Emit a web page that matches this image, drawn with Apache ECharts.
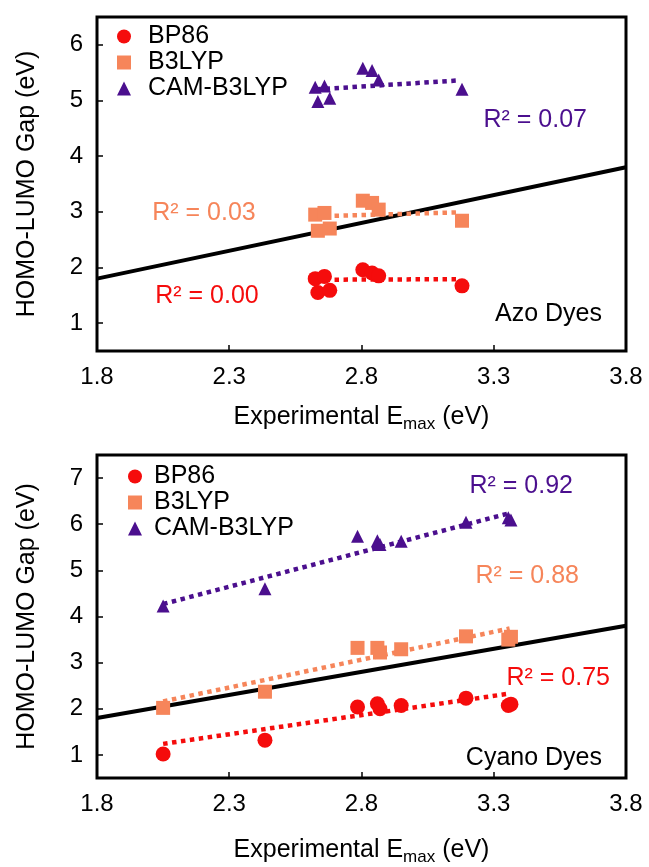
<!DOCTYPE html>
<html>
<head>
<meta charset="utf-8">
<script src="https://cdn.jsdelivr.net/npm/echarts@6/dist/echarts.min.js"></script>
<style>
  html, body { margin: 0; padding: 0; background: #fff; }
  #chart { width: 649px; height: 867px; }
</style>
</head>
<body>
<div id="chart"></div>
<script>
// tick labels
var xTicks = [1.8, 2.3, 2.8, 3.3, 3.8];
var yTicksAzo = [1, 2, 3, 4, 5, 6];
var yTicksCyano = [1, 2, 3, 4, 5, 6, 7];
var names = ['BP86', 'B3LYP', 'CAM-B3LYP'];

// Azo dyes (experimental Emax vs computed gap)
var azoX      = [2.625, 2.66, 2.635, 2.68, 2.805, 2.84, 2.865, 3.18];
var azoBP86   = [1.80, 1.84, 1.55, 1.59, 1.96, 1.90, 1.85, 1.67];
var azoB3LYP  = [2.95, 2.98, 2.66, 2.70, 3.20, 3.16, 3.04, 2.84];
var azoCAM    = [5.24, 5.26, 4.98, 5.04, 5.58, 5.54, 5.37, 5.20];
// azo linear fits (end points)
var azoFitX     = [2.63, 3.165];
var azoFitBP86  = [1.78, 1.79];
var azoFitB3LYP = [2.92, 2.99];
var azoFitCAM   = [5.20, 5.36];

// Cyano dyes
var cyX      = [2.05, 2.435, 2.785, 2.86, 2.87, 2.95, 3.195, 3.355, 3.365];
var cyBP86   = [1.02, 1.32, 2.04, 2.11, 2.00, 2.07, 2.23, 2.07, 2.10];
var cyB3LYP  = [2.02, 2.37, 3.32, 3.32, 3.22, 3.29, 3.57, 3.50, 3.56];
var cyCAM    = [4.23, 4.60, 5.74, 5.64, 5.56, 5.63, 6.04, 6.14, 6.09];
// cyano linear fits
var cyFitX     = [2.05, 3.36];
var cyFitBP86  = [1.24, 2.33];
var cyFitB3LYP = [2.16, 3.74];
var cyFitCAM   = [4.27, 6.24];

// y = x reference line
var idealX = [1.8, 3.8];
var idealY = [1.8, 3.8];

var FONT = '"Liberation Sans", Arial, sans-serif';
var RED = '#f50c0c', ORANGE = '#f6855a', PURPLE = '#4b0f8e';
var colors = [RED, ORANGE, PURPLE];
var symbols = ['circle', 'rect', 'triangle'];
var sizes = [15, 14, 13];

function zip(xs, ys) {
  var out = [];
  for (var i = 0; i < xs.length; i++) out.push([xs[i], ys[i]]);
  return out;
}

var myChart = echarts.init(document.getElementById('chart'));

var series = [];
var panels = [
  {x: azoX, ys: [azoBP86, azoB3LYP, azoCAM], fx: azoFitX, fys: [azoFitBP86, azoFitB3LYP, azoFitCAM]},
  {x: cyX, ys: [cyBP86, cyB3LYP, cyCAM], fx: cyFitX, fys: [cyFitBP86, cyFitB3LYP, cyFitCAM]}
];
panels.forEach(function (p, gi) {
  series.push({
    type: 'line', xAxisIndex: gi, yAxisIndex: gi, data: zip(idealX, idealY),
    symbol: 'none', silent: true, z: 2,
    lineStyle: {color: '#000', width: 4}
  });
  for (var k = 0; k < 3; k++) {
    series.push({
      type: 'line', xAxisIndex: gi, yAxisIndex: gi, data: zip(p.fx, p.fys[k]),
      symbol: 'none', silent: true, z: 3,
      lineStyle: {color: colors[k], width: 4.5, type: [4.5, 4.5]}
    });
    series.push({
      name: names[k], type: 'scatter', xAxisIndex: gi, yAxisIndex: gi,
      data: zip(p.x, p.ys[k]), symbol: symbols[k], symbolSize: sizes[k], z: 4,
      itemStyle: {color: colors[k], opacity: 1}
    });
  }
});

function legendFor(left, top, pad) {
  return {
    orient: 'vertical', left: left, top: top, itemWidth: 14, itemHeight: 14, itemGap: 1,
    selectedMode: false,
    data: [{name: 'BP86', icon: 'circle'}, {name: 'B3LYP', icon: 'rect'}, {name: 'CAM-B3LYP', icon: 'triangle'}],
    textStyle: {fontSize: 25, fontFamily: FONT, color: '#000', padding: [0, 0, 0, pad]}
  };
}

function xAxisFor(gi, gap) {
  return {
    type: 'value', gridIndex: gi, min: 1.8, max: 3.8, interval: 0.5,
    name: 'Experimental E{sub|max} (eV)', nameLocation: 'middle', nameGap: gap,
    nameTextStyle: {fontSize: 25, fontFamily: FONT, color: '#000',
      rich: {sub: {fontSize: 17, fontFamily: FONT, color: '#000', padding: [14, 0, 0, 0]}}},
    axisLine: {show: false},
    axisTick: {inside: true, length: 6, lineStyle: {color: '#000', width: 1.5}},
    splitLine: {show: false},
    axisLabel: {fontSize: 24, fontFamily: FONT, color: '#000', margin: 14,
      formatter: function (v) {
        for (var i = 0; i < xTicks.length; i++) if (Math.abs(xTicks[i] - v) < 1e-6) return xTicks[i].toFixed(1);
        return '';
      }}
  };
}

function yAxisFor(gi, max, ticks) {
  return {
    type: 'value', gridIndex: gi, min: 0.5, max: max, splitNumber: ticks.length,
    name: 'HOMO-LUMO Gap (eV)', nameLocation: 'middle', nameGap: 57,
    nameTextStyle: {fontSize: 25, fontFamily: FONT, color: '#000'},
    axisLine: {show: false},
    axisTick: {inside: true, length: 6, lineStyle: {color: '#000', width: 1.5}},
    splitLine: {show: false},
    axisLabel: {fontSize: 24, fontFamily: FONT, color: '#000', margin: 14,
      showMinLabel: false, showMaxLabel: false,
      formatter: function (v) {
        for (var i = 0; i < ticks.length; i++) if (Math.abs(ticks[i] - v) < 1e-6) return String(ticks[i]);
        return '';
      }}
  };
}

function label(text, x, y, color, align) {
  return {
    type: 'text', x: x, y: y, z: 10, silent: true,
    style: {text: text, font: '25px ' + FONT, fill: color, textAlign: align || 'center', textVerticalAlign: 'middle'}
  };
}

myChart.setOption({
  animation: false,
  backgroundColor: '#fff',
  grid: [
    {left: 97, top: 17, width: 529, height: 334, show: true, borderColor: '#000', borderWidth: 3},
    {left: 97, top: 455, width: 529, height: 334, show: true, borderColor: '#000', borderWidth: 3}
  ],
  legend: [legendFor(112, 19, 12), legendFor(123, 459, 7)],
  xAxis: [xAxisFor(0, 51), xAxisFor(1, 57)],
  yAxis: [yAxisFor(0, 6.5, yTicksAzo), yAxisFor(1, 7.5, yTicksCyano)],
  series: series,
  graphic: [
    label('R\u00b2 = 0.07', 587, 120, PURPLE, 'right'),
    label('R\u00b2 = 0.03', 204, 213, ORANGE),
    label('R\u00b2 = 0.00', 207, 296, RED),
    label('Azo Dyes', 602, 314, '#000', 'right'),
    label('R\u00b2 = 0.92', 573, 486, PURPLE, 'right'),
    label('R\u00b2 = 0.88', 579, 576, ORANGE, 'right'),
    label('R\u00b2 = 0.75', 610, 678, RED, 'right'),
    label('Cyano Dyes', 602, 758, '#000', 'right')
  ]
});
</script>
</body>
</html>
